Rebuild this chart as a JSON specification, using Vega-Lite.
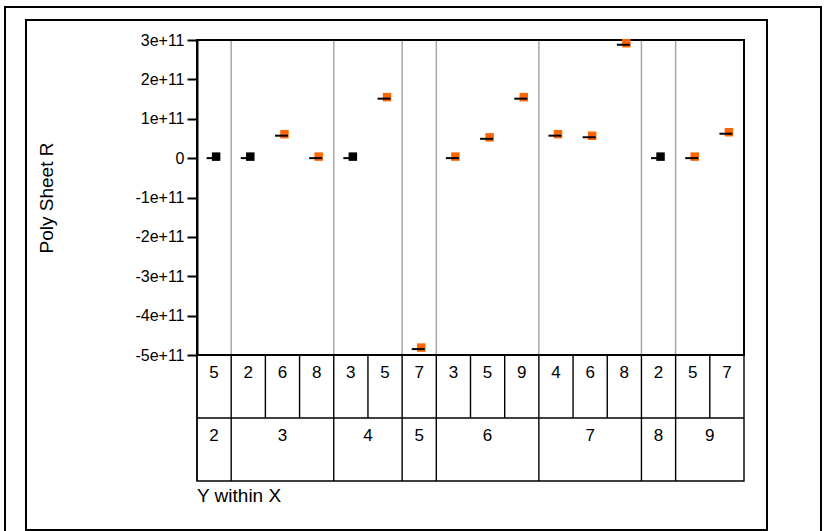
{
  "$schema": "https://vega.github.io/schema/vega-lite/v6.json",
  "width": 741,
  "height": 510,
  "autosize": {"type": "none"},
  "padding": {"left": 26, "top": 20, "right": 58, "bottom": 1},
  "background": "white",
  "config": {
    "view": {"stroke": "black", "strokeWidth": 2},
    "font": "Liberation Sans",
    "text": {"font": "Liberation Sans", "color": "black"}
  },
  "datasets": {
    "cells": [
      {"col": 0, "X": "2", "Y": "5", "R": 0, "grp": "b"},
      {"col": 1, "X": "3", "Y": "2", "R": 0, "grp": "b"},
      {"col": 2, "X": "3", "Y": "6", "R": 57000000000, "grp": "o"},
      {"col": 3, "X": "3", "Y": "8", "R": 0, "grp": "o"},
      {"col": 4, "X": "4", "Y": "3", "R": 0, "grp": "b"},
      {"col": 5, "X": "4", "Y": "5", "R": 151000000000, "grp": "o"},
      {"col": 6, "X": "5", "Y": "7", "R": -485000000000, "grp": "o"},
      {"col": 7, "X": "6", "Y": "3", "R": 0, "grp": "o"},
      {"col": 8, "X": "6", "Y": "5", "R": 49000000000, "grp": "o"},
      {"col": 9, "X": "6", "Y": "9", "R": 151000000000, "grp": "o"},
      {"col": 10, "X": "7", "Y": "4", "R": 57000000000, "grp": "o"},
      {"col": 11, "X": "7", "Y": "6", "R": 53000000000, "grp": "o"},
      {"col": 12, "X": "7", "Y": "8", "R": 288000000000, "grp": "o"},
      {"col": 13, "X": "8", "Y": "2", "R": 0, "grp": "b"},
      {"col": 14, "X": "9", "Y": "5", "R": 0, "grp": "o"},
      {"col": 15, "X": "9", "Y": "7", "R": 62000000000, "grp": "o"}
    ]
  },
  "data": {"name": "cells"},
  "layer": [
    {
      "layer": [
        {
          "transform": [
            {"aggregate": [{"op": "min", "field": "col", "as": "start"}], "groupby": ["X"]},
            {"filter": "datum.start > 0"}
          ],
          "mark": {"type": "rule", "color": "#a8a8a8", "strokeWidth": 1.5},
          "encoding": {
            "x": {"field": "start", "type": "quantitative", "scale": {"domain": [0, 16], "range": [171, 718], "nice": false, "zero": false}, "axis": null},
            "y": {
              "datum": 300000000000, "type": "quantitative",
              "scale": {"domain": [-500000000000, 300000000000], "range": [335, 20], "nice": false, "zero": false},
              "axis": {
                "title": "Poly Sheet R",
                "offset": -171,
                "values": [-500000000000, -400000000000, -300000000000, -200000000000, -100000000000, 0, 100000000000, 200000000000, 300000000000],
                "labelExpr": "datum.value == 0 ? '0' : (datum.value < 0 ? '-' : '') + format(abs(datum.value), '.0e')",
                "grid": false,
                "domainColor": "black", "domainWidth": 2,
                "tickColor": "black", "tickWidth": 2, "tickSize": 10,
                "labelFont": "Liberation Sans", "labelFontSize": 16, "labelColor": "black", "labelPadding": 3,
                "titleFont": "Liberation Sans", "titleFontSize": 19, "titleFontWeight": "normal", "titleColor": "black", "titlePadding": 78
              }
            },
            "y2": {"datum": -500000000000}
          }
        },
        {
          "data": {"values": [{}]},
          "mark": {"type": "rect", "fillOpacity": 0, "stroke": "black", "strokeWidth": 2},
          "encoding": {
            "x": {"datum": 0, "type": "quantitative", "scale": {"domain": [0, 16], "range": [171, 718], "nice": false, "zero": false}, "axis": null},
            "x2": {"datum": 16},
            "y": {"datum": 300000000000, "type": "quantitative"},
            "y2": {"datum": -500000000000}
          }
        },
        {
          "mark": {"type": "square", "size": 72, "opacity": 1, "filled": true, "xOffset": 19.1, "yOffset": -1.5},
          "encoding": {
            "x": {"field": "col", "type": "quantitative", "scale": {"domain": [0, 16], "range": [171, 718], "nice": false, "zero": false}, "axis": null},
            "y": {"field": "R", "type": "quantitative"},
            "color": {"field": "grp", "type": "nominal", "scale": {"domain": ["b", "o"], "range": ["#000000", "#ff6600"]}, "legend": null}
          }
        },
        {
          "mark": {"type": "tick", "orient": "horizontal", "size": 13, "thickness": 2, "color": "black", "opacity": 1, "xOffset": 16.1},
          "encoding": {
            "x": {"field": "col", "type": "quantitative", "scale": {"domain": [0, 16], "range": [171, 718], "nice": false, "zero": false}, "axis": null},
            "y": {"field": "R", "type": "quantitative"}
          }
        }
      ]
    },
    {
      "layer": [
        {
          "mark": {"type": "rule", "color": "black", "strokeWidth": 1.4},
          "encoding": {
            "x": {"field": "col", "type": "quantitative", "scale": {"domain": [0, 16], "range": [171, 718], "nice": false, "zero": false}, "axis": null},
            "y": {"datum": 0, "type": "quantitative", "scale": {"domain": [0, 2], "range": [335, 461], "nice": false, "zero": false}, "axis": null},
            "y2": {"datum": 1}
          }
        },
        {
          "transform": [
            {"aggregate": [{"op": "min", "field": "col", "as": "start"}], "groupby": ["X"]}
          ],
          "mark": {"type": "rule", "color": "black", "strokeWidth": 1.4},
          "encoding": {
            "x": {"field": "start", "type": "quantitative", "axis": null},
            "y": {"datum": 1, "type": "quantitative", "axis": null},
            "y2": {"datum": 2}
          }
        },
        {
          "data": {"values": [{}]},
          "mark": {"type": "rect", "fillOpacity": 0, "stroke": "black", "strokeWidth": 1.4},
          "encoding": {
            "x": {"datum": 0, "type": "quantitative", "axis": null},
            "x2": {"datum": 16},
            "y": {"datum": 0, "type": "quantitative", "axis": null},
            "y2": {"datum": 2}
          }
        },
        {
          "data": {"values": [{}]},
          "mark": {"type": "rule", "color": "black", "strokeWidth": 1.4},
          "encoding": {
            "x": {"datum": 0, "type": "quantitative", "axis": null},
            "x2": {"datum": 16},
            "y": {"datum": 1, "type": "quantitative", "axis": null}
          }
        },
        {
          "mark": {"type": "text", "fontSize": 17, "align": "center", "baseline": "middle", "xOffset": 17.1},
          "encoding": {
            "x": {"field": "col", "type": "quantitative", "axis": null},
            "y": {"datum": 0.28, "type": "quantitative", "axis": null},
            "text": {"field": "Y"}
          }
        },
        {
          "transform": [
            {"aggregate": [{"op": "mean", "field": "col", "as": "mid"}], "groupby": ["X"]}
          ],
          "mark": {"type": "text", "fontSize": 17, "align": "center", "baseline": "middle", "xOffset": 17.1},
          "encoding": {
            "x": {"field": "mid", "type": "quantitative", "axis": null},
            "y": {"datum": 1.285, "type": "quantitative", "axis": null},
            "text": {"field": "X"}
          }
        },
        {
          "data": {"values": [{"label": "Y within X"}]},
          "mark": {"type": "text", "fontSize": 19, "align": "left", "baseline": "middle"},
          "encoding": {
            "x": {"datum": 0, "type": "quantitative", "axis": null},
            "y": {"datum": 2.238, "type": "quantitative", "axis": null},
            "text": {"field": "label"}
          }
        },
        {
          "data": {"values": [{}]},
          "mark": {"type": "rect", "fillOpacity": 0, "stroke": "black", "strokeWidth": 2},
          "encoding": {
            "x": {"datum": -5.616, "type": "quantitative", "axis": null},
            "x2": {"datum": 18.252},
            "y": {"datum": -5.524, "type": "quantitative", "axis": null},
            "y2": {"datum": 2.94}
          }
        }
      ]
    }
  ],
  "resolve": {"scale": {"y": "independent"}}
}
